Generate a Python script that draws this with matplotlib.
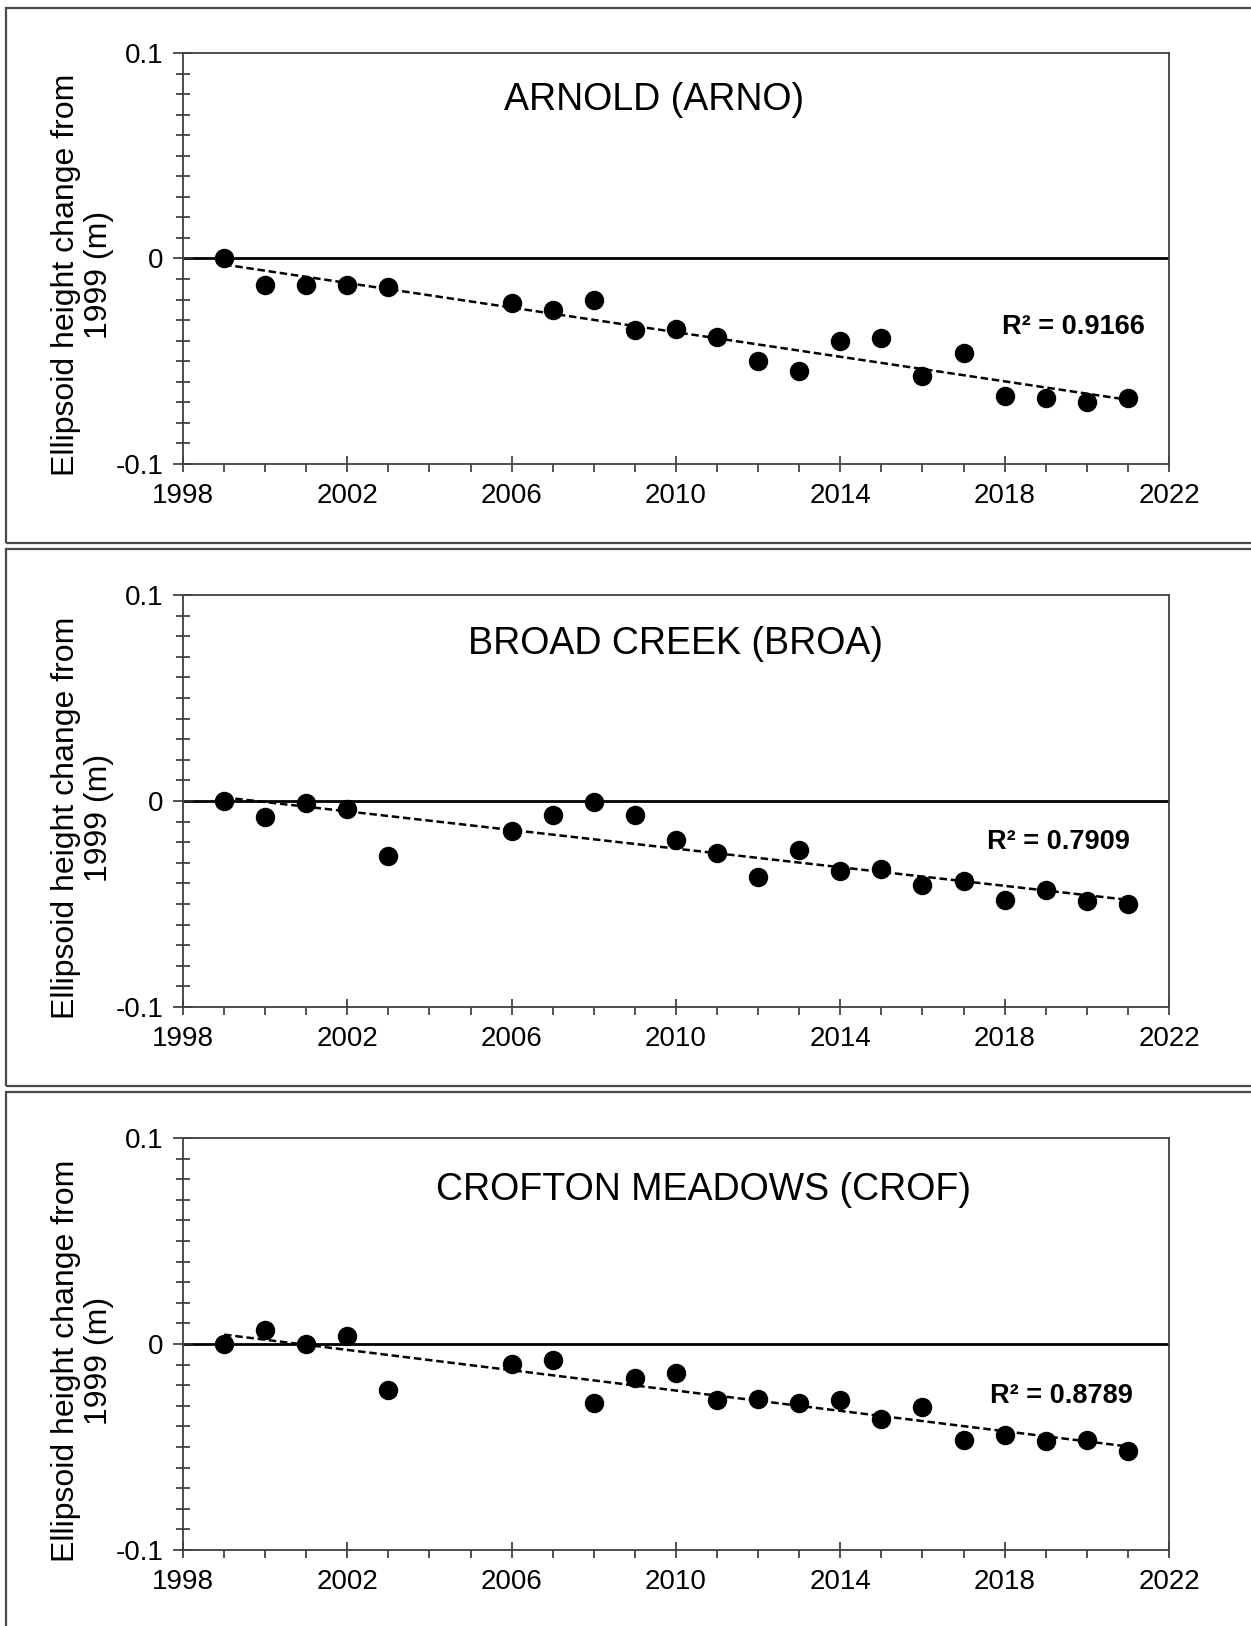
import numpy as np
import matplotlib
matplotlib.use("Agg")
import matplotlib.pyplot as plt
from matplotlib.patches import Rectangle

plt.rcParams['font.family'] = ['Liberation Sans', 'DejaVu Sans']

# survey years (same for all three stations)
years = [1999, 2000, 2001, 2002, 2003, 2006, 2007, 2008, 2009, 2010, 2011,
         2012, 2013, 2014, 2015, 2016, 2017, 2018, 2019, 2020, 2021]

# ellipsoid height change from 1999 (m)
arno = [0.0, -0.0127, -0.0127, -0.0127, -0.0137, -0.0218, -0.0249, -0.0203,
        -0.0350, -0.0345, -0.0380, -0.0500, -0.0548, -0.0400, -0.0386,
        -0.0570, -0.0460, -0.0670, -0.0680, -0.0700, -0.0680]
broa = [0.0, -0.0080, -0.0010, -0.0040, -0.0268, -0.0146, -0.0070, -0.0005,
        -0.0070, -0.0187, -0.0250, -0.0370, -0.0237, -0.0340, -0.0330,
        -0.0410, -0.0390, -0.0480, -0.0434, -0.0485, -0.0500]
crof = [0.0, 0.0070, 0.0, 0.0040, -0.0222, -0.0096, -0.0076, -0.0288,
        -0.0167, -0.0141, -0.0273, -0.0268, -0.0288, -0.0273, -0.0364,
        -0.0308, -0.0465, -0.0444, -0.0470, -0.0465, -0.0520]

titles = ["ARNOLD (ARNO)", "BROAD CREEK (BROA)", "CROFTON MEADOWS (CROF)"]
r2_labels = ["R\u00b2 = 0.9166", "R\u00b2 = 0.7909", "R\u00b2 = 0.8789"]

xticks = [1998, 2002, 2006, 2010, 2014, 2018, 2022]
yticks = [-0.1, 0, 0.1]
ytick_labels = ["-0.1", "0", "0.1"]

W, H = 1251, 1626
fig = plt.figure(figsize=(W / 100, H / 100), dpi=100)

# axes boxes in pixels: (top, bottom), left/right shared
ax_left, ax_right = 183, 1169
ax_rows = [(53, 464), (595, 1007), (1138, 1550)]
# panel frames in pixels: (top, bottom)
frames = [(8, 543), (549, 1086), (1092, 1640)]
title_pos = [(2009.47, 0.0773), (2009.98, 0.0763), (2010.68, 0.0747)]
r2_pos = [(2019.68, -0.0335), (2019.3, -0.0197), (2019.37, -0.0253)]

for top, bot in frames:
    fig.add_artist(Rectangle((6 / W, 1 - bot / H), 1.05, (bot - top) / H,
                             transform=fig.transFigure, fill=False,
                             edgecolor="#4a4a4a", lw=1.6))

for i, vals in enumerate([arno, broa, crof]):
    top, bot = ax_rows[i]
    ax = fig.add_axes([ax_left / W, 1 - bot / H, (ax_right - ax_left) / W, (bot - top) / H])
    x = np.array(years)
    y = np.array(vals)
    ax.axhline(0, color="black", lw=2.0, zorder=1)
    m, b = np.polyfit(x, y, 1)
    xx = np.array([x[0], x[-1]])
    ax.plot(xx, m * xx + b, color="black", lw=1.8, ls=(0, (3, 1.5)), zorder=2)
    ax.plot(x, y, "o", color="black", ms=13, zorder=3)

    ax.set_xlim(1998, 2022)
    ax.set_ylim(-0.1, 0.1)
    ax.set_xticks(xticks)
    ax.set_xticklabels([str(t) for t in xticks], fontsize=20)
    ax.set_xticks(np.arange(1998, 2023, 1), minor=True)
    ax.set_yticks(yticks)
    ax.set_yticklabels(ytick_labels, fontsize=20)
    ax.set_yticks(np.linspace(-0.1, 0.1, 21), minor=True)
    ax.tick_params(axis="x", which="major", direction="inout", length=12,
                   width=1.2, color="#333333", pad=8)
    ax.tick_params(axis="x", which="minor", direction="out", length=6,
                   width=1.2, color="#333333")
    ax.tick_params(axis="y", which="major", direction="inout", length=14,
                   width=1.2, color="#333333", pad=7)
    ax.tick_params(axis="y", which="minor", direction="inout", length=10,
                   width=1.2, color="#333333")
    for sp in ax.spines.values():
        sp.set_color("#404040")
        sp.set_linewidth(1.3)

    ax.text(*title_pos[i], titles[i], ha="center", va="center", fontsize=27)
    ax.text(*r2_pos[i], r2_labels[i], ha="center", va="center", fontsize=19.5,
            fontweight="bold")
    ax.text(-0.102, 0.46, "Ellipsoid height change from\n1999 (m)",
            transform=ax.transAxes, rotation=90, ha="center", va="center",
            fontsize=23, linespacing=1.1)

fig.savefig("out.png", dpi=100)
